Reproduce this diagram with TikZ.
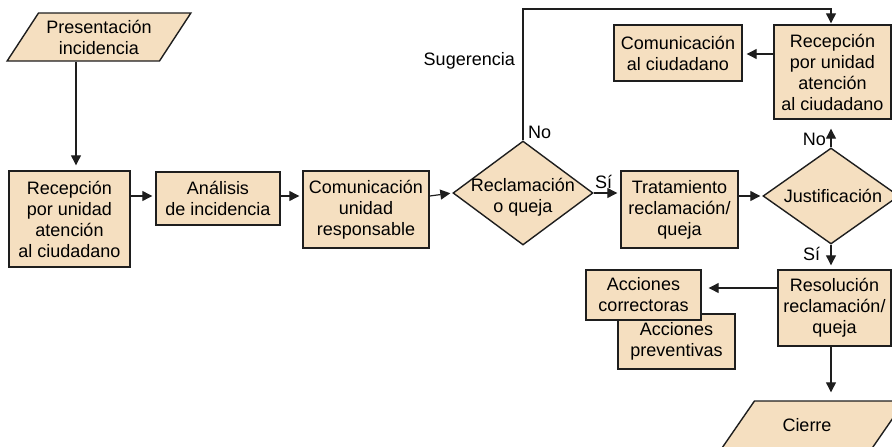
\documentclass[tikz,border=0pt]{standalone}
\usepackage{fontspec}
\setmainfont{Liberation Sans}
\usetikzlibrary{shapes.geometric,arrows.meta}

\definecolor{boxfill}{RGB}{245,223,192}
\definecolor{edge}{RGB}{30,30,30}

\tikzset{
  stepbox/.style={draw=edge, line width=1.4pt, fill=boxfill, inner sep=0pt,
    align=center, font=\fontsize{18}{21}\selectfont},
  decision/.style={diamond, draw=edge, line width=1.4pt, fill=boxfill, inner sep=0pt},
  iobox/.style={trapezium, trapezium left angle=51.6, trapezium right angle=128.4,
    trapezium stretches=true, draw=edge, line width=1.4pt, fill=boxfill,
    inner sep=0pt, align=center, font=\fontsize{18}{21}\selectfont},
  txt/.style={inner sep=0pt, align=center, font=\fontsize{18}{21}\selectfont},
  flow/.style={draw=edge, line width=1.2pt, -{Triangle[length=10pt,width=10pt]}, shorten >=3pt},
}

\begin{document}
\begin{tikzpicture}[x=1pt, y=-1pt]
  \useasboundingbox (0,0) rectangle (892,447);
  \clip (0,0) rectangle (892,447);

  % main row
  \node[iobox, minimum width=184, minimum height=48] (pres) at (99,37) {Presentación\\incidencia};
  \node[stepbox, minimum width=121, minimum height=96] (rec1) at (69.5,219) {Recepción\\por unidad\\atención\\al ciudadano};
  \node[stepbox, minimum width=124, minimum height=53] (anal) at (218,198.5) {Análisis\\de incidencia};
  \node[stepbox, minimum width=126, minimum height=77] (comu) at (366,209.5) {Comunicación\\unidad\\responsable};
  \node[decision, minimum width=140, minimum height=104] (recl) at (523,193) {};
  \node[txt] (recltxt) at (523,197) {Reclamación\\o queja};
  \node[stepbox, minimum width=117, minimum height=77] (trat) at (679.5,209.5) {Tratamiento\\reclamación/\\queja};
  \node[decision, minimum width=136, minimum height=96] (just) at (831,196) {};
  \node[txt] (justtxt) at (833,196) {Justificación};

  % upper branch
  \node[stepbox, minimum width=117, minimum height=94] (rec2) at (832.5,72) {Recepción\\por unidad\\atención\\al ciudadano};
  \node[stepbox, minimum width=128, minimum height=56] (ciud) at (678,53) {Comunicación\\al ciudadano};

  % lower branch
  \node[stepbox, minimum width=113, minimum height=76] (reso) at (834.5,308) {Resolución\\reclamación/\\queja};
  \node[stepbox, minimum width=117, minimum height=55] (prev) at (676.5,341.5) {Acciones\\preventivas};
  \node[stepbox, minimum width=115, minimum height=50] (corr) at (643.5,295) {Acciones\\correctoras};
  \node[iobox, minimum width=184, minimum height=48] (cier) at (813,425) {\hspace*{-12pt}Cierre};

  % helper coordinates for connector heights
  \coordinate (xin) at (76,0);
  \coordinate (yrow) at (0,196);
  \coordinate (ytop) at (0,9);
  \coordinate (ycom) at (0,54);
  \coordinate (yacc) at (0,288);

  % connectors
  \draw[flow, shorten >=5pt] (pres.south -| xin) -- (rec1.north -| xin);
  \draw[flow] (rec1.east |- yrow) -- (anal.west |- yrow);
  \draw[flow] (anal.east |- yrow) -- (comu.west |- yrow);
  \draw[flow, shorten >=2pt] (comu.east |- yrow) -- (recl.west);
  \draw[flow] (recl.east) -- (trat.west |- recl.east);
  \draw[flow, shorten >=2pt] (trat.east |- yrow) -- (just.west);
  \draw[flow, shorten >=1pt] (recl.north) -- (recl.north |- ytop) -| (just.north |- rec2.north);
  \draw[flow, shorten >=4pt] (rec2.west |- ycom) -- (ciud.east |- ycom);
  \draw[flow, shorten >=9pt] (just.north) -- (just.north |- rec2.south);
  \draw[flow, shorten >=4pt] (just.south) -- (just.south |- reso.north);
  \draw[flow, shorten >=7pt] (reso.west |- yacc) -- (corr.east |- yacc);
  \draw[flow, shorten >=8pt] (just.south |- reso.south) -- (just.south |- cier.north);

  % branch labels
  \node[txt, anchor=base east] (lsug) at (515,65) {Sugerencia};
  \node[txt, anchor=base west] (lno1) at (528,138) {No};
  \node[txt, anchor=base west] (lsi1) at (595,188) {Sí};
  \node[txt, anchor=base east] (lno2) at (826,145) {No};
  \node[txt, anchor=base west] (lsi2) at (803,260) {Sí};
\end{tikzpicture}
\end{document}
